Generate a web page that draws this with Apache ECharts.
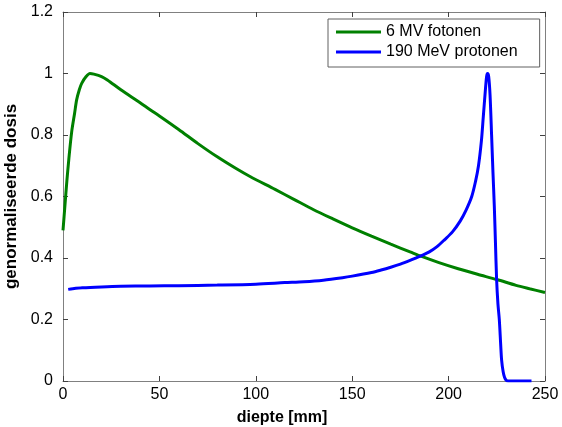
<!DOCTYPE html>
<html>
<head>
<meta charset="utf-8">
<script src="https://cdn.jsdelivr.net/npm/echarts@6/dist/echarts.min.js"></script>
<style>html,body{margin:0;padding:0;background:#fff}#c{width:562px;height:427px}</style>
</head>
<body>
<div id="c"></div>
<script>
const xTicks = [0, 50, 100, 150, 200, 250];
const yTicks = [0, 0.2, 0.4, 0.6, 0.8, 1, 1.2];
const seriesNames = ['6 MV fotonen', '190 MeV protonen'];

const photonDepth = [0, 1, 2, 3, 4.5, 6, 7.1, 8.5, 9.7, 12, 14, 16, 20, 23, 30, 40, 45, 50, 60, 70, 80, 90, 97, 110, 120, 130, 140, 150, 160, 170, 180, 186, 195, 205, 215, 225, 235, 242, 250];
const photonDose  = [0.49, 0.57, 0.65, 0.72, 0.81, 0.87, 0.915, 0.948, 0.968, 0.99, 1.0, 0.998, 0.99, 0.979, 0.947, 0.905, 0.883, 0.862, 0.818, 0.772, 0.729, 0.69, 0.665, 0.623, 0.59, 0.557, 0.527, 0.498, 0.471, 0.445, 0.42, 0.405, 0.385, 0.365, 0.347, 0.33, 0.311, 0.30, 0.288];

const protonDepth = [2.7, 5, 10, 20, 30, 45, 60, 80, 100, 115, 125, 135, 145, 150, 160, 165, 170, 175, 180, 185, 190, 194, 198, 202, 206, 209, 212, 214, 215.5, 217, 218, 219, 219.7, 220.2, 220.8, 221.5, 222.3, 223, 223.7, 224.3, 224.9, 225.6, 226.3, 227, 227.5, 228.3, 229, 229.8, 231, 243];
const protonDose  = [0.298, 0.300, 0.303, 0.306, 0.308, 0.309, 0.310, 0.312, 0.315, 0.320, 0.323, 0.328, 0.336, 0.341, 0.353, 0.361, 0.37, 0.38, 0.392, 0.405, 0.42, 0.437, 0.46, 0.485, 0.52, 0.555, 0.60, 0.65, 0.70, 0.78, 0.86, 0.94, 0.99, 1.0, 0.99, 0.93, 0.80, 0.68, 0.57, 0.45, 0.33, 0.25, 0.20, 0.12, 0.068, 0.03, 0.012, 0.003, 0, 0];

const zip = (a, b) => a.map((v, i) => [v, b[i]]);
const FONT = 'Liberation Sans, Arial, sans-serif';
const AX = '#808080';

const chart = echarts.init(document.getElementById('c'), null, {renderer: 'canvas'});
const baseX = {
  type: 'value', min: xTicks[0], max: xTicks[xTicks.length - 1], interval: xTicks[1] - xTicks[0],
  axisLine: {show: true, onZero: false, lineStyle: {color: AX, width: 1}},
  axisTick: {show: true, inside: true, length: 5, lineStyle: {color: '#404040'}},
  splitLine: {show: false}
};
const baseY = {
  type: 'value', min: yTicks[0], max: yTicks[yTicks.length - 1], interval: 0.2,
  axisLine: {show: true, onZero: false, lineStyle: {color: AX, width: 1}},
  axisTick: {show: true, inside: true, length: 5, lineStyle: {color: '#404040'}},
  splitLine: {show: false}
};
chart.setOption({
  animation: false,
  backgroundColor: '#fff',
  grid: {left: 63, right: 17, top: 12, bottom: 46, containLabel: false, outerBoundsMode: 'none'},
  legend: {
    left: 328, top: 19, orient: 'vertical',
    data: seriesNames.map(n => ({name: n, icon: 'rect'})),
    itemWidth: 45, itemHeight: 3, itemGap: 0,
    padding: [3, 22, 5, 8],
    borderColor: '#606060', borderWidth: 1, backgroundColor: '#fff',
    textStyle: {fontFamily: FONT, fontSize: 16, color: '#000', lineHeight: 20, padding: [0, 0, 0, 0]}
  },
  xAxis: [
    Object.assign({}, baseX, {
      position: 'bottom',
      axisLabel: {show: true, margin: 6, fontFamily: FONT, fontSize: 16, color: '#000'},
      name: 'diepte [mm]', nameLocation: 'middle', nameGap: 29,
      nameTextStyle: {fontFamily: FONT, fontSize: 16, fontWeight: 'bold', color: '#000', padding: [0, 44, 0, 0]}
    }),
    Object.assign({}, baseX, {position: 'top', axisLabel: {show: false}})
  ],
  yAxis: [
    Object.assign({}, baseY, {
      position: 'left',
      axisLabel: {show: true, margin: 10, fontFamily: FONT, fontSize: 16, color: '#000',
        formatter: v => String(+v.toFixed(1))},
      name: 'genormaliseerde dosis', nameLocation: 'middle', nameGap: 38,
      nameTextStyle: {fontFamily: FONT, fontSize: 17, fontWeight: 'bold', color: '#000'}
    }),
    Object.assign({}, baseY, {position: 'right', axisLabel: {show: false}})
  ],
  series: [
    {name: seriesNames[0], type: 'line', data: zip(photonDepth, photonDose), showSymbol: false, symbol: 'none',
     smooth: 0.3, lineStyle: {color: '#008000', width: 3}, itemStyle: {color: '#008000'}},
    {name: seriesNames[1], type: 'line', data: zip(protonDepth, protonDose), showSymbol: false, symbol: 'none',
     smooth: 0.3, lineStyle: {color: '#0000ff', width: 3}, itemStyle: {color: '#0000ff'}}
  ]
});
</script>
</body>
</html>
